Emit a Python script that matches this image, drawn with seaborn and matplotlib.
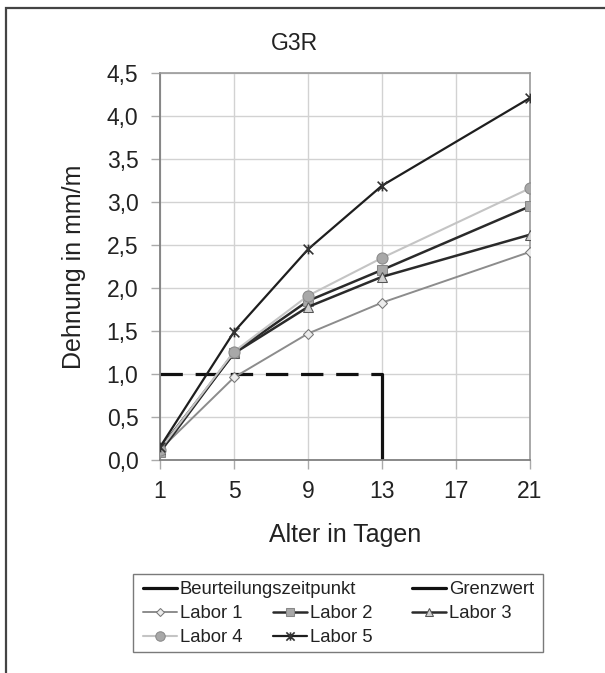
import matplotlib
matplotlib.use("Agg")
import matplotlib.pyplot as plt
from matplotlib.lines import Line2D
from matplotlib.patches import Rectangle
from matplotlib.path import Path
import seaborn as sns
import pandas as pd

# ---- data ----
alter = [1, 5, 9, 13, 21]
labor1 = [0.12, 0.96, 1.47, 1.83, 2.42]
labor2 = [0.09, 1.25, 1.85, 2.21, 2.95]
labor3 = [0.13, 1.24, 1.78, 2.13, 2.62]
labor4 = [0.12, 1.26, 1.91, 2.35, 3.16]
labor5 = [0.15, 1.49, 2.45, 3.19, 4.21]
grenz_x = [1, 13]
grenz_y = [1.0, 1.0]
beurt_x = [13, 13]
beurt_y = [0.0, 1.0]
x_ticks = [1, 5, 9, 13, 17, 21]
y_ticks = [0.0, 0.5, 1.0, 1.5, 2.0, 2.5, 3.0, 3.5, 4.0, 4.5]
y_tick_labels = ["0,0", "0,5", "1,0", "1,5", "2,0", "2,5", "3,0", "3,5", "4,0", "4,5"]
title = "G3R"
xlabel = "Alter in Tagen"
ylabel = "Dehnung in mm/m"

sns.set_style("white")
plt.rcParams["font.family"] = ["Liberation Sans", "DejaVu Sans"]

W, H = 605, 673
fig = plt.figure(figsize=(W / 100, H / 100), dpi=100)
ax = fig.add_axes([160 / W, 1 - 460 / H, 370 / W, 387 / H])

# limit lines
sns.lineplot(x=grenz_x, y=grenz_y, ax=ax, color="#111111", linewidth=2.3,
             estimator=None, sort=False, legend=False, zorder=2, label="Grenzwert")
ax.lines[-1].set_dashes([7, 4])
sns.lineplot(x=beurt_x, y=beurt_y, ax=ax, color="#111111", linewidth=2.3,
             estimator=None, sort=False, legend=False, zorder=2,
             label="Beurteilungszeitpunkt")

star = Path([(-1, -1), (1, 1), (-1, 1), (1, -1), (0, -1), (0, 1)],
            [Path.MOVETO, Path.LINETO, Path.MOVETO, Path.LINETO, Path.MOVETO, Path.LINETO])

series = [
    ("Labor 1", labor1, dict(color="#8c8c8c", linewidth=1.4, marker="D", markersize=5,
                             markerfacecolor="#ececec", markeredgecolor="#777777")),
    ("Labor 2", labor2, dict(color="#2a2a2a", linewidth=1.8, marker="s", markersize=7,
                             markerfacecolor="#a8a8a8", markeredgecolor="#888888")),
    ("Labor 3", labor3, dict(color="#2a2a2a", linewidth=1.8, marker="^", markersize=7,
                             markerfacecolor="#d0d0d0", markeredgecolor="#555555")),
    ("Labor 4", labor4, dict(color="#c4c4c4", linewidth=1.5, marker="o", markersize=8,
                             markerfacecolor="#a8a8a8", markeredgecolor="#8a8a8a")),
    ("Labor 5", labor5, dict(color="#1e1e1e", linewidth=1.6, marker=star, markersize=7,
                             markerfacecolor="none", markeredgecolor="#333333",
                             markeredgewidth=1.2)),
]
for name, vals, kw in series:
    df = pd.DataFrame({"Alter": alter, "Dehnung": vals})
    sns.lineplot(data=df, x="Alter", y="Dehnung", ax=ax, legend=False, label=name,
                 estimator=None, zorder=3, **kw)
handles = {ln.get_label(): ln for ln in ax.lines}

ax.set_xlim(1, 21)
ax.set_ylim(0, 4.5)
ax.set_xticks(x_ticks)
ax.set_xticklabels([str(v) for v in x_ticks])
ax.set_yticks(y_ticks)
ax.set_yticklabels(y_tick_labels)
ax.grid(True, color="#d2d2d2", linewidth=1.0)
ax.set_axisbelow(True)
for s in ["top", "right"]:
    ax.spines[s].set_color("#9a9a9a")
    ax.spines[s].set_linewidth(1.2)
for s in ["left", "bottom"]:
    ax.spines[s].set_color("#808080")
    ax.spines[s].set_linewidth(1.3)
ax.tick_params(axis="both", direction="out", length=6.5, width=1.0, color="#aaaaaa",
               labelsize=16.5, labelcolor="#222222", bottom=True, left=True)
ax.tick_params(axis="y", pad=9)
ax.tick_params(axis="x", pad=8)
ax.set_xlabel(xlabel, fontsize=18, color="#222222", labelpad=14)
ax.set_ylabel(ylabel, fontsize=18, color="#222222", labelpad=15)
fig.text(0.486, 1 - 43 / H, title, ha="center", va="center", fontsize=16.5, color="#222222")

# outer frame
fig.patches.append(Rectangle((6 / W, -0.2), 1.5, 1.2 - 8 / H, transform=fig.transFigure,
                             fill=False, edgecolor="#444444", linewidth=1.6, zorder=0))
# legend frame
fig.patches.append(Rectangle((133 / W, 1 - 652 / H), 410 / W, 78 / H, transform=fig.transFigure,
                             fill=False, edgecolor="#7a7a7a", linewidth=1.0))


def proxy(ln):
    return Line2D([], [], color=ln.get_color(), linewidth=ln.get_linewidth(),
                  marker=ln.get_marker(), markersize=ln.get_markersize() * 0.85,
                  markerfacecolor=ln.get_markerfacecolor(),
                  markeredgecolor=ln.get_markeredgecolor(),
                  markeredgewidth=ln.get_markeredgewidth())


leg_kw = dict(frameon=False, fontsize=13.3, handlelength=1.85, handletextpad=0.15,
              borderpad=0, borderaxespad=0, loc="center left",
              bbox_transform=fig.transFigure, labelcolor="#222222")
entries = [
    ("Beurteilungszeitpunkt", 143, 590),
    ("Grenzwert", 412, 590),
    ("Labor 1", 143, 614),
    ("Labor 2", 273, 614),
    ("Labor 3", 412, 614),
    ("Labor 4", 143, 638),
    ("Labor 5", 273, 638),
]
for name, x0, y0 in entries:
    fig.legend([proxy(handles[name])], [name], bbox_to_anchor=(x0 / W, 1 - y0 / H), **leg_kw)

fig.savefig("out.png", dpi=100)
